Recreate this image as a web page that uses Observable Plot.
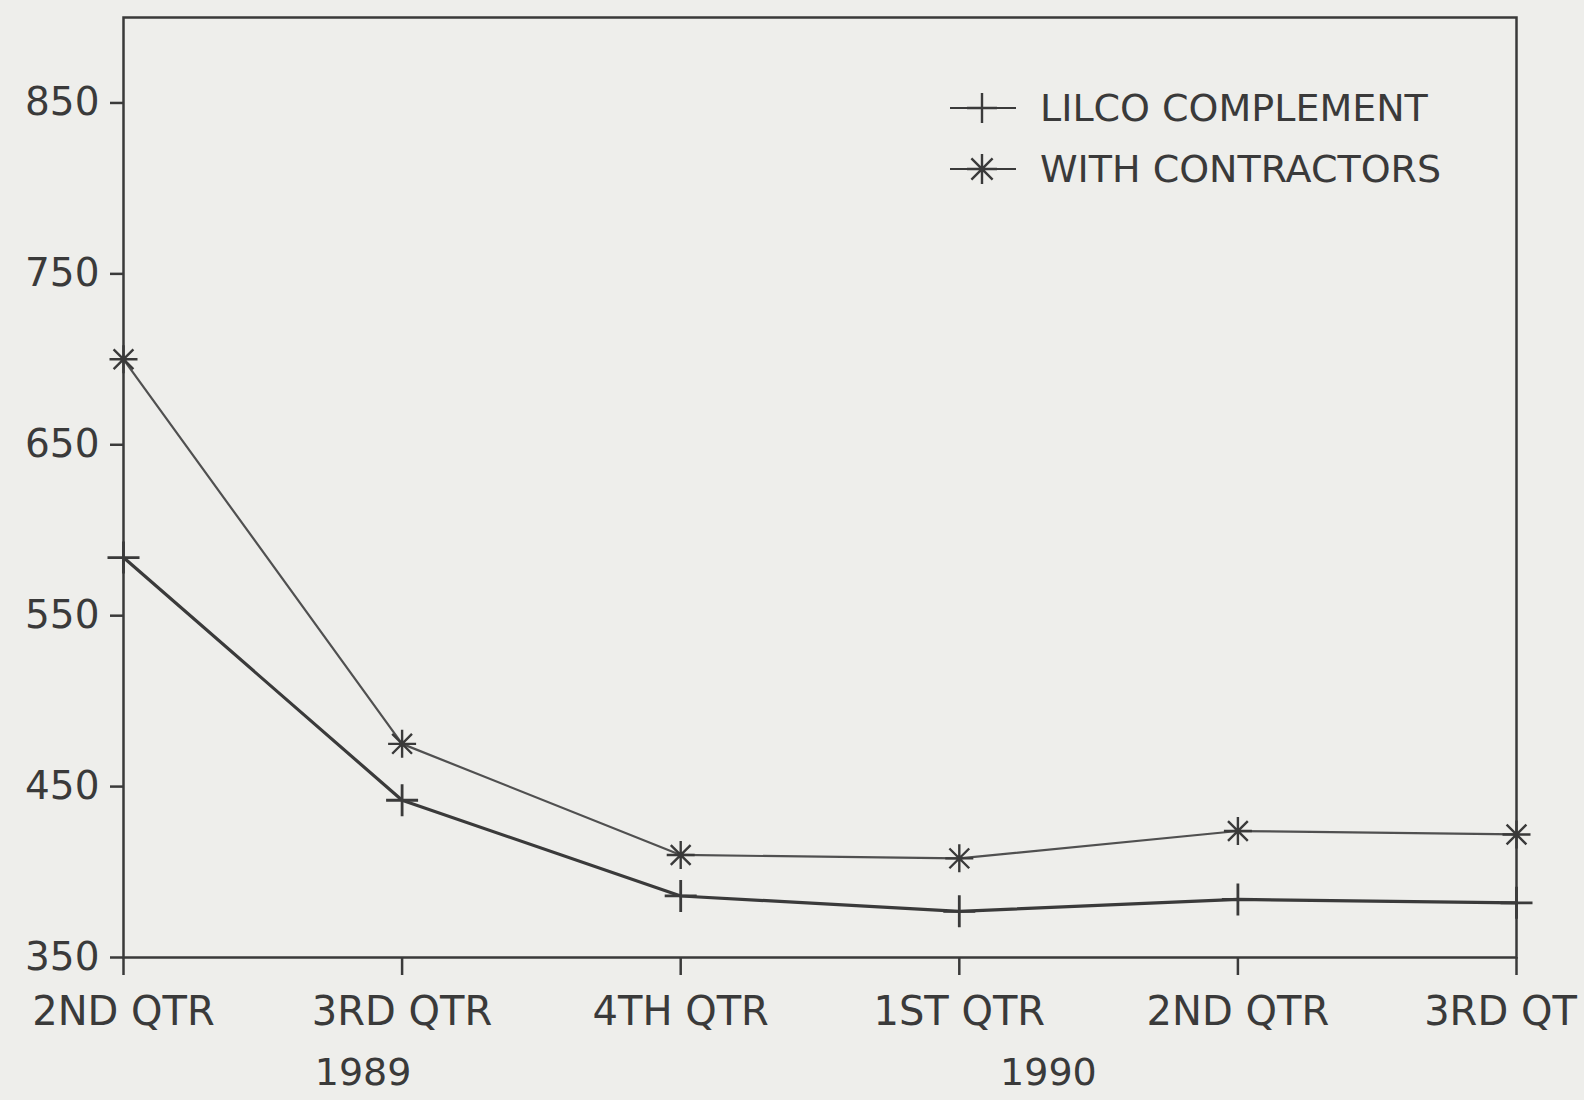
<!DOCTYPE html>
<html>
<head>
<meta charset="utf-8">
<script src="https://cdn.jsdelivr.net/npm/d3@7"></script>
<script src="https://cdn.jsdelivr.net/npm/@observablehq/plot@0.6"></script>
<style>
  html, body { margin: 0; padding: 0; background: #eeeeeb; }
  #wrap { position: relative; width: 1584px; height: 1100px; overflow: hidden; }
  #legend { position: absolute; left: 950px; top: 77px; font-family: "DejaVu Sans", sans-serif; font-size: 38px; color: #3a3a3a; }
  #legend .row { display: flex; align-items: center; height: 61px; }
  #legend .row span { margin-left: 24px; white-space: nowrap; }
</style>
</head>
<body>
<div id="wrap">
  <div id="chart"></div>
  <div id="legend"></div>
</div>
<script>
// ---- data ----
const quarters = ["2ND QTR", "3RD QTR", "4TH QTR", "1ST QTR", "2ND QTR", "3RD QT"];
const lilcoComplement = [584, 442, 386, 377, 384, 382];
const withContractors = [700, 475, 410, 408, 424, 422];
const yTicks = [350, 450, 550, 650, 750, 850];
const years = ["1989", "1990"];
const seriesNames = ["LILCO COMPLEMENT", "WITH CONTRACTORS"];

const ink = "#3a3a3a";

// custom stroke symbols (arm length = r)
const plusSymbol = {
  draw(ctx, size) {
    const r = Math.sqrt(size / Math.PI);
    ctx.moveTo(-r, 0); ctx.lineTo(r, 0);
    ctx.moveTo(0, -r); ctx.lineTo(0, r);
  }
};
const asteriskSymbol = {
  draw(ctx, size) {
    const r = Math.sqrt(size / Math.PI);
    const d = r * Math.SQRT1_2;
    ctx.moveTo(-r, 0); ctx.lineTo(r, 0);
    ctx.moveTo(0, -r); ctx.lineTo(0, r);
    ctx.moveTo(-d, -d); ctx.lineTo(d, d);
    ctx.moveTo(-d, d); ctx.lineTo(d, -d);
  }
};

const rows = quarters.map((q, i) => ({i, q, lilco: lilcoComplement[i], contr: withContractors[i]}));
const tickIdx = d3.range(quarters.length);
const last = quarters.length - 1;

const chart = Plot.plot({
  width: 1584,
  height: 1100,
  marginLeft: 123,
  marginRight: 68,
  marginTop: 17,
  marginBottom: 143,
  style: {background: "transparent", fontFamily: "DejaVu Sans, sans-serif", color: ink, overflow: "visible"},
  x: {domain: [0, last]},
  y: {domain: [350, 900]},
  marks: [
    Plot.frame({stroke: ink, strokeWidth: 2.5}),
    Plot.axisY({ticks: yTicks, tickSize: 13, tickPadding: 11, strokeWidth: 2.5, fontSize: 39, label: null, tickFormat: d => String(d)}),
    Plot.axisX({ticks: tickIdx, tickFormat: i => (i === last ? "" : quarters[i]), tickSize: 18, tickPadding: 21, strokeWidth: 2.5, fontSize: 40, label: null}),
    Plot.axisX({ticks: [last], tickFormat: i => quarters[i], tickSize: 0, tickPadding: 39, fontSize: 40, label: null, dx: -16}),
    Plot.line(rows, {x: "i", y: "contr", stroke: "#505050", strokeWidth: 2.2}),
    Plot.line(rows, {x: "i", y: "lilco", stroke: ink, strokeWidth: 3.2}),
    Plot.dot(rows, {x: "i", y: "lilco", symbol: plusSymbol, r: 16, fill: "none", stroke: ink, strokeWidth: 2.8}),
    Plot.dot(rows, {x: "i", y: "contr", symbol: asteriskSymbol, r: 14, fill: "none", stroke: ink, strokeWidth: 2.4}),
    Plot.text(years, {x: [0.86, 3.32], y: [350, 350], text: d => d, dy: 115, fontSize: 38, fill: ink})
  ]
});
document.getElementById("chart").appendChild(chart);

// legend
const legend = d3.select("#legend");
const syms = [plusSymbol, asteriskSymbol];
seriesNames.forEach((name, k) => {
  const row = legend.append("div").attr("class", "row");
  const svg = row.append("svg").attr("width", 66).attr("height", 40);
  svg.append("line").attr("x1", 0).attr("x2", 66).attr("y1", 20).attr("y2", 20)
    .attr("stroke", ink).attr("stroke-width", 2);
  const p = d3.path();
  syms[k].draw(p, Math.PI * 15 * 15);
  svg.append("path").attr("d", p.toString()).attr("transform", "translate(32,20)")
    .attr("fill", "none").attr("stroke", ink).attr("stroke-width", 2.4);
  row.append("span").text(name);
});
</script>
</body>
</html>
